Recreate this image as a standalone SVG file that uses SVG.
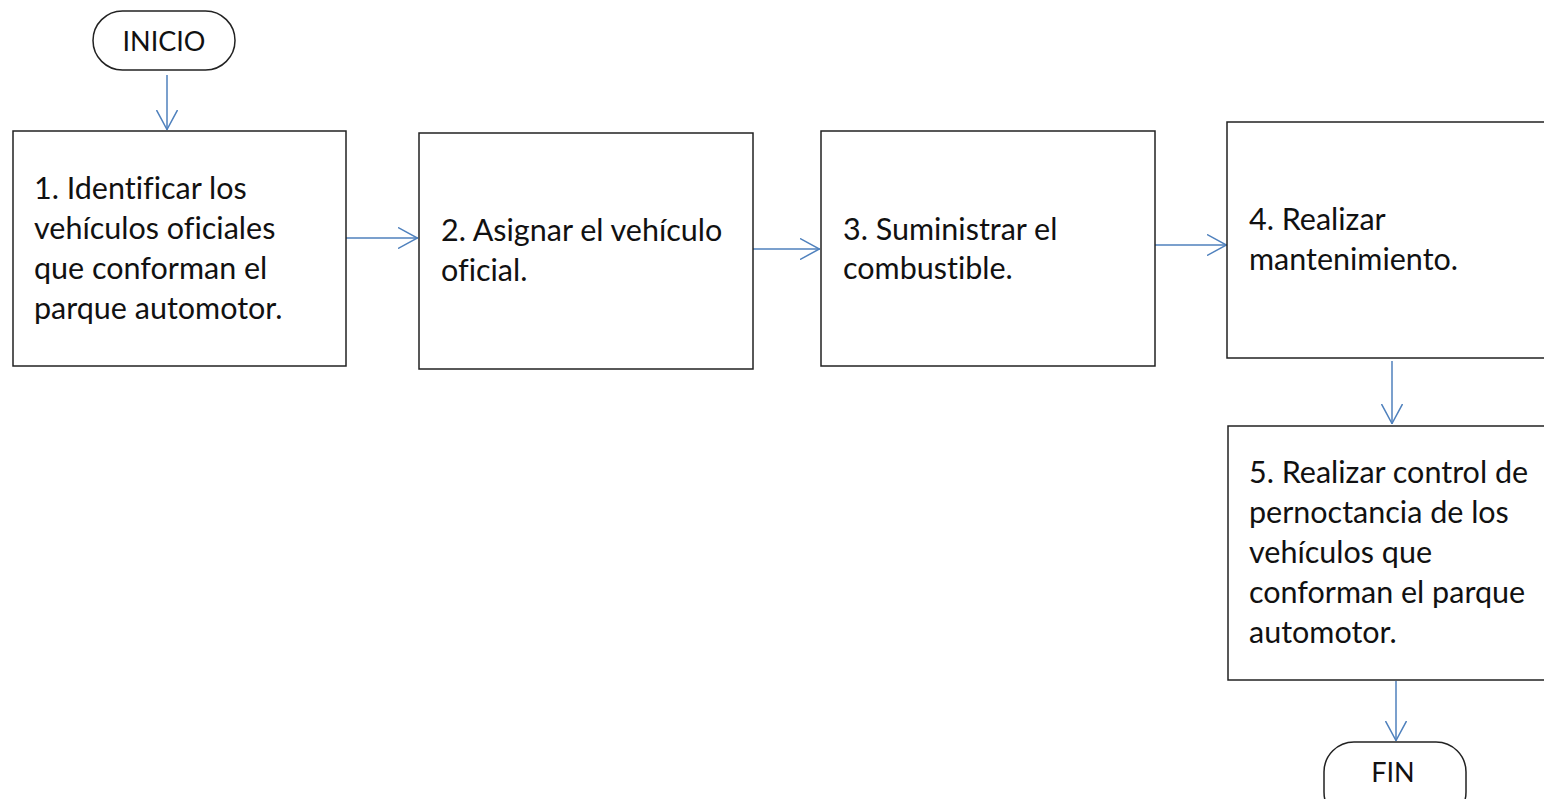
<svg xmlns="http://www.w3.org/2000/svg" width="1544" height="799" viewBox="0 0 1544 799">
<style>
.box{fill:#fff;stroke:#222;stroke-width:1.5}
.t{font-family:Lato,"Open Sans",sans-serif;font-size:30.5px;fill:#111;font-variant-ligatures:none;font-feature-settings:"liga" 0}
.tc{font-family:Lato,"Open Sans",sans-serif;font-size:27px;fill:#111;text-anchor:middle}
.c{stroke:#4F81BD;stroke-width:1.5;fill:none}
</style>
<defs>
<marker id="ah" viewBox="0 0 20 22" refX="20" refY="11" markerWidth="20" markerHeight="22" markerUnits="userSpaceOnUse" orient="auto">
<path d="M0,0.5 L19.5,11 L0,21.5" fill="none" stroke="#4F81BD" stroke-width="1.5"/>
</marker>
</defs>
<rect width="1544" height="799" fill="#fff"/>
<g id="connectors">
<line class="c" x1="167" y1="75" x2="167" y2="130" marker-end="url(#ah)"/>
<line class="c" x1="346" y1="238" x2="418" y2="238" marker-end="url(#ah)"/>
<line class="c" x1="753" y1="249" x2="820" y2="249" marker-end="url(#ah)"/>
<line class="c" x1="1155" y1="245" x2="1227" y2="245" marker-end="url(#ah)"/>
<line class="c" x1="1392" y1="361" x2="1392" y2="424" marker-end="url(#ah)"/>
<line class="c" x1="1396" y1="681" x2="1396" y2="741" marker-end="url(#ah)"/>
</g>
<g id="inicio">
<rect class="box" x="93" y="11" width="142" height="59" rx="29.5"/>
<text class="tc" x="164" y="51">INICIO</text>
</g>
<g id="n1">
<rect class="box" x="13" y="131" width="333" height="235"/>
<text class="t" x="34" y="199">1. Identificar los</text>
<text class="t" x="34" y="239">vehículos oficiales</text>
<text class="t" x="34" y="279">que conforman el</text>
<text class="t" x="34" y="319">parque automotor.</text>
</g>
<g id="n2">
<rect class="box" x="419" y="133" width="334" height="236"/>
<text class="t" x="441" y="241">2. Asignar el vehículo</text>
<text class="t" x="441" y="281">oficial.</text>
</g>
<g id="n3">
<rect class="box" x="821" y="131" width="334" height="235"/>
<text class="t" x="843" y="240">3. Suministrar el</text>
<text class="t" x="843" y="279">combustible.</text>
</g>
<g id="n4">
<rect class="box" x="1227" y="122" width="330" height="236"/>
<text class="t" x="1249" y="230">4. Realizar</text>
<text class="t" x="1249" y="270">mantenimiento.</text>
</g>
<g id="n5">
<rect class="box" x="1228" y="426" width="330" height="254"/>
<text class="t" x="1249" y="483">5. Realizar control de</text>
<text class="t" x="1249" y="523">pernoctancia de los</text>
<text class="t" x="1249" y="563">vehículos que</text>
<text class="t" x="1249" y="603">conforman el parque</text>
<text class="t" x="1249" y="643">automotor.</text>
</g>
<g id="fin">
<rect class="box" x="1324" y="742" width="142" height="80" rx="30"/>
<text class="tc" x="1393" y="782">FIN</text>
</g>
</svg>
